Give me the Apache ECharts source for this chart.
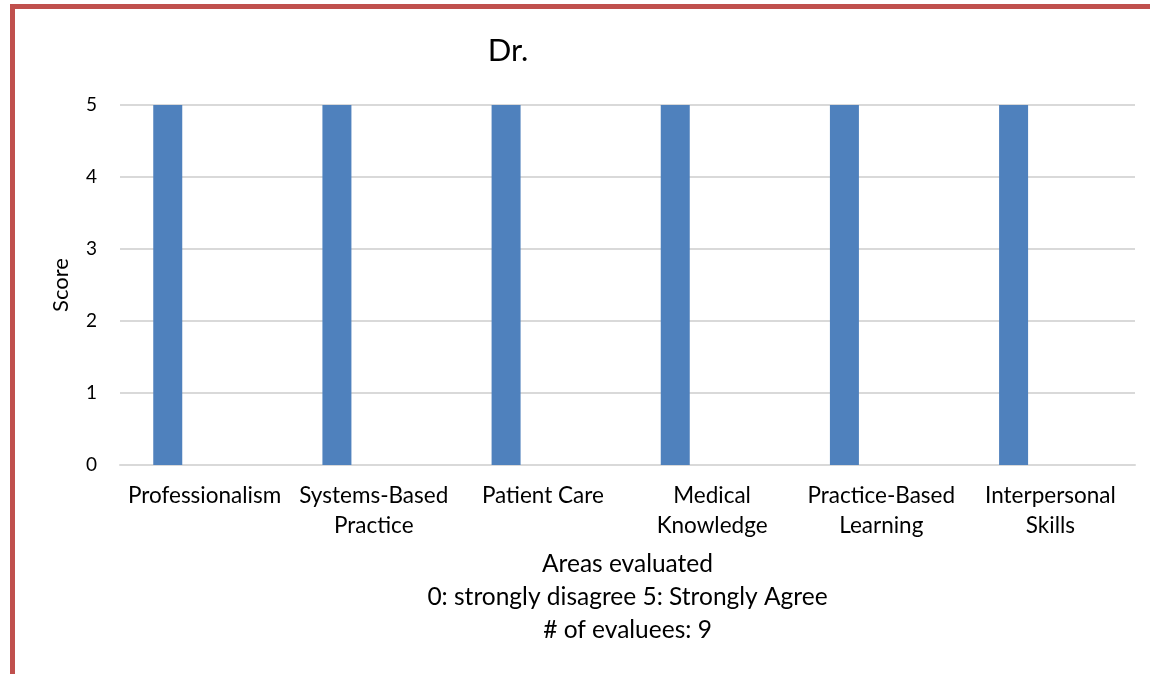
<!DOCTYPE html>
<html>
<head>
<meta charset="utf-8">
<script src="https://cdn.jsdelivr.net/npm/echarts@6/dist/echarts.min.js"></script>
<style>
  body { margin: 0; background: #fff; }
  #main { position: absolute; left: 0; top: 0; width: 1150px; height: 674px; }
  #frame {
    position: absolute; left: 10px; top: 4px; right: 0; bottom: 0;
    border-left: 5px solid #c0504d; border-top: 5px solid #c0504d;
    pointer-events: none;
  }
</style>
</head>
<body>
<div id="main"></div>
<div id="frame"></div>
<script>
// categories on the x axis
var areas = [
  "Professionalism",
  "Systems-Based\nPractice",
  "Patient Care",
  "Medical\nKnowledge",
  "Practice-Based\nLearning",
  "Interpersonal\nSkills"
];
// score per area (only the first series has values, the other two are blank)
var scores = [5, 5, 5, 5, 5, 5];
var blank2 = [null, null, null, null, null, null];
var blank3 = [null, null, null, null, null, null];
var yTicks = [0, 1, 2, 3, 4, 5];

var font = "Lato";

var dom = document.getElementById("main");
var myChart = echarts.init(dom, null, { renderer: "canvas" });

var option = {
  animation: false,
  title: {
    text: "Dr.",
    left: 503,
    top: 30,
    textAlign: "center",
    textStyle: { fontFamily: font, fontSize: 31, fontWeight: "normal", color: "#000" }
  },
  grid: { left: 120, right: 15, top: 105, bottom: 209 },
  xAxis: {
    type: "category",
    data: areas,
    axisLine: { lineStyle: { color: "#d9d9d9", width: 2 } },
    axisTick: { show: false },
    axisLabel: {
      fontFamily: font, fontSize: 22.5, color: "#000",
      lineHeight: 30, margin: 16, interval: 0
    },
    name: "Areas evaluated\n0: strongly disagree 5: Strongly Agree\n# of evaluees: 9",
    nameLocation: "middle",
    nameGap: 83,
    nameTextStyle: { fontFamily: font, fontSize: 24.5, color: "#000", lineHeight: 33 }
  },
  yAxis: {
    type: "value",
    min: yTicks[0],
    max: yTicks[yTicks.length - 1],
    interval: 1,
    axisLine: { show: false },
    axisTick: { show: false },
    splitLine: { lineStyle: { color: "#d9d9d9", width: 2 } },
    axisLabel: { fontFamily: font, fontSize: 19, color: "#000", margin: 23 },
    name: "Score",
    nameLocation: "middle",
    nameRotate: 90,
    nameGap: 48,
    nameTextStyle: { fontFamily: font, fontSize: 22, color: "#000" }
  },
  series: [
    { type: "bar", data: scores, barWidth: 29, barGap: "27%", itemStyle: { color: "#4f81bd" } },
    { type: "bar", data: blank2, barWidth: 29, barGap: "27%", itemStyle: { color: "#c0504d" } },
    { type: "bar", data: blank3, barWidth: 29, barGap: "27%", itemStyle: { color: "#9bbb59" } }
  ]
};

myChart.setOption(option);
window.addEventListener("resize", myChart.resize);
</script>
</body>
</html>
